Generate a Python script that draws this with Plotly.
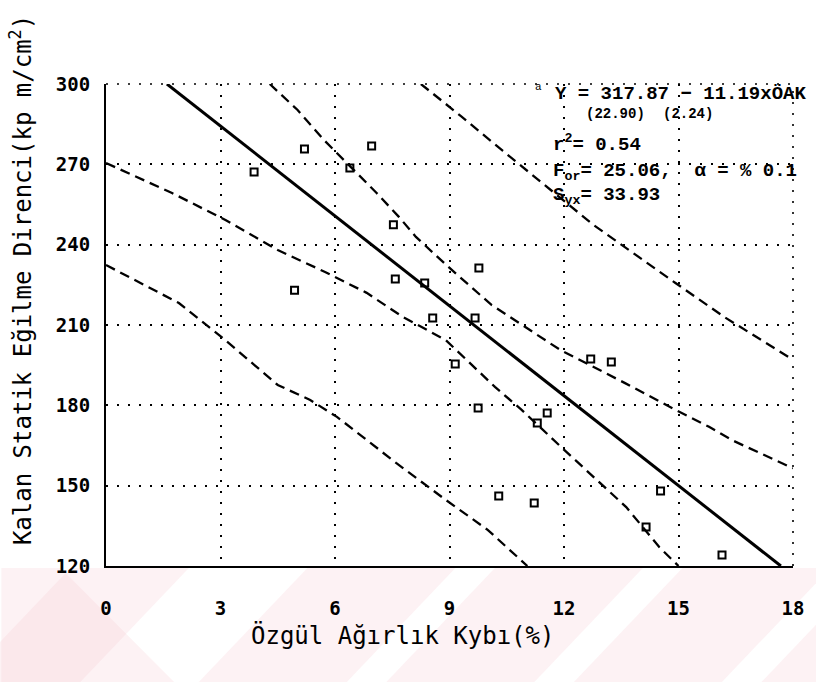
import plotly.graph_objects as go

# Observations: specific gravity loss (%) vs. residual static bending strength
oak = [3.88, 5.20, 6.96, 6.39, 7.53, 4.94, 7.58, 8.35, 9.77, 8.56, 9.67,
       9.15, 9.75, 11.56, 11.30, 12.70, 13.24, 10.29, 11.22, 14.53, 14.15, 16.14]
direnc = [267.1, 275.7, 276.8, 268.6, 247.4, 223.0, 227.2, 225.7, 231.3, 212.6, 212.6,
          195.4, 179.0, 177.1, 173.4, 197.3, 196.2, 146.1, 143.5, 148.0, 134.6, 124.1]

# Regression coefficients (Y = b0 - b1 * ÖAK)
b0, b1 = 317.87, 11.19

# Confidence band (inner) and prediction band (outer)
conf_up_x = [4.29, 5.02, 5.71, 7.09, 7.68, 8.12, 8.97, 10.1, 11.9, 13.6, 14.92, 15.8, 16.4, 17.9, 18.0]
conf_up_y = [300.0, 290.3, 279.1, 259.3, 250.3, 242.9, 231.7, 217.5, 200.7, 188.3, 178.3, 172.0, 167.0, 157.0, 156.5]
conf_lo_x = [0.0, 1.73, 3.13, 4.5, 5.74, 6.83, 7.78, 8.9, 10.19, 10.89, 11.92, 12.77, 13.63, 14.5, 14.92, 15.0]
conf_lo_y = [270.5, 259.3, 249.2, 238.0, 229.8, 222.0, 213.0, 204.4, 186.9, 178.3, 164.5, 153.3, 142.0, 127.0, 121.0, 120.0]
pred_up_x = [8.25, 9.3, 10.4, 11.6, 12.77, 14.92, 16.2, 18.0]
pred_up_y = [300.0, 288.0, 275.0, 261.0, 247.4, 225.7, 213.0, 197.0]
pred_lo_x = [0.0, 1.91, 3.03, 4.5, 5.35, 6.05, 6.9, 7.6, 8.9, 10.0, 11.04]
pred_lo_y = [232.4, 218.2, 205.5, 187.6, 182.0, 175.7, 166.3, 158.5, 144.7, 133.5, 120.0]

x_ticks = [0, 3, 6, 9, 12, 15, 18]
y_ticks = [120, 150, 180, 210, 240, 270, 300]

W, H = 816, 682
L, R, T, B = 106, 14, 84, 116
PW, PH = W - L - R, H - T - B


def px(x):
    return (x - L) / PW


def py(y):
    return (H - B - y) / PH


fig = go.Figure()

dash_style = dict(color="black", width=2.3, dash="10px,6px")
for xs, ys in [(conf_up_x, conf_up_y), (conf_lo_x, conf_lo_y),
               (pred_up_x, pred_up_y), (pred_lo_x, pred_lo_y)]:
    fig.add_trace(go.Scatter(x=xs, y=ys, mode="lines", line=dash_style,
                             hoverinfo="skip", showlegend=False))

# fitted line across the visible window
x_top = (b0 - y_ticks[-1]) / b1
x_bot = (b0 - y_ticks[0]) / b1
fig.add_trace(go.Scatter(x=[x_top, x_bot], y=[b0 - b1 * x_top, b0 - b1 * x_bot],
                         mode="lines", line=dict(color="black", width=3),
                         showlegend=False))

fig.add_trace(go.Scatter(x=oak, y=direnc, mode="markers",
                         marker=dict(symbol="square-open", size=7, color="black",
                                     line=dict(width=2, color="black")),
                         showlegend=False))

tick_font = dict(family="DejaVu Sans Mono", size=19, color="black", weight="bold")
grid = dict(showgrid=True, gridcolor="black", gridwidth=1.6, griddash="2px,9px",
            showline=True, linecolor="black", linewidth=2.2, zeroline=False,
            ticks="", tickfont=tick_font)
fig.update_xaxes(range=[0, 18], tickvals=x_ticks, ticktext=[str(v) for v in x_ticks],
                 ticklabelstandoff=24, **grid)
fig.update_yaxes(range=[120, 300], tickvals=y_ticks, ticktext=[str(v) for v in y_ticks],
                 ticklabelstandoff=10, **grid)

# dotted top and right borders of the frame
dot_line = dict(color="black", width=1.6, dash="2px,9px")
shapes = [
    dict(type="line", xref="paper", yref="paper", x0=0, x1=1, y0=1, y1=1, line=dot_line),
    dict(type="line", xref="paper", yref="paper", x0=1, x1=1, y0=0, y1=1, line=dot_line),
]

# faint pink background stripes under the axis area
pink = "rgba(244,196,205,0.22)"
top_y, bot_y = 568, H
stripes = [(-40, 80), (200, 350), (390, 540), (580, 730), (770, 920)]
for xb0, xb1 in stripes:
    lean = 110
    path = (f"M {px(xb0)},{py(bot_y)} L {px(xb1)},{py(bot_y)} "
            f"L {px(xb1 + lean)},{py(top_y)} L {px(xb0 + lean)},{py(top_y)} Z")
    shapes.append(dict(type="path", xref="paper", yref="paper", path=path,
                       fillcolor=pink, line=dict(width=0), layer="below"))
left_path = (f"M {px(0)},{py(top_y)} L {px(60)},{py(top_y)} L {px(175)},{py(bot_y)} "
             f"L {px(0)},{py(bot_y)} Z")
shapes.append(dict(type="path", xref="paper", yref="paper", path=left_path,
                   fillcolor=pink, line=dict(width=0), layer="below"))

mono = "DejaVu Sans Mono"
ann_font = dict(family="Liberation Mono", size=19, color="black", weight="bold")
sub_font = dict(family="Liberation Mono", size=14, color="black", weight="bold")
annotations = [
    dict(x=px(20), y=py(280), text="Kalan Statik Eğilme Direnci(kp m/cm<sup>2</sup>)",
         textangle=-90, font=dict(family=mono, size=24, color="black"),
         xanchor="center", yanchor="middle"),
    dict(x=px(406), y=py(635), text="Özgül Ağırlık Kybı(%)",
         font=dict(family=mono, size=24, color="black"), xanchor="center", yanchor="middle"),
    dict(x=px(539), y=py(87), text="a", font=dict(family="Liberation Mono", size=11, color="black"),
         xanchor="left", yanchor="middle"),
    dict(x=px(559), y=py(94), text="Y = 317.87 − 11.19xÖAK", xanchor="left", yanchor="middle",
         font=ann_font),
    dict(x=px(622), y=py(114), text="(22.90)", xanchor="center", yanchor="middle", font=sub_font),
    dict(x=px(696), y=py(114), text="(2.24)", xanchor="center", yanchor="middle", font=sub_font),
    dict(x=px(557), y=py(143), text="r<sup>2</sup>= 0.54", xanchor="left", yanchor="middle",
         font=ann_font),
    dict(x=px(557), y=py(172), text="F<sub>or</sub>= 25.06,  α = % 0.1", xanchor="left",
         yanchor="middle", font=ann_font),
    dict(x=px(557), y=py(196), text="S<sub>yx</sub>= 33.93", xanchor="left", yanchor="middle",
         font=ann_font),
]
for a in annotations:
    a.update(xref="paper", yref="paper", showarrow=False)

fig.update_layout(width=W, height=H, margin=dict(l=L, r=R, t=T, b=B),
                  paper_bgcolor="white", plot_bgcolor="white",
                  annotations=annotations, shapes=shapes, showlegend=False)

fig.write_html("out.html")
